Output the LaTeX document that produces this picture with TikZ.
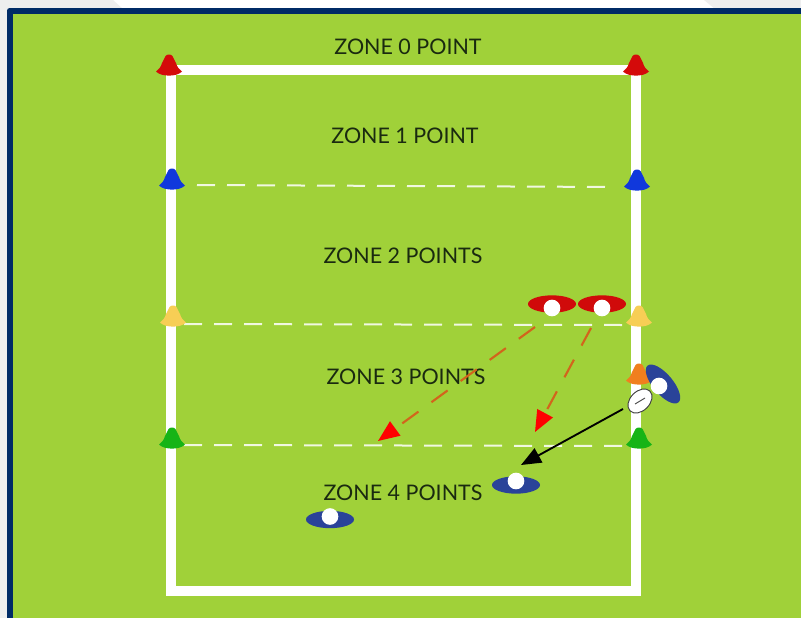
\documentclass[tikz,border=0pt]{standalone}
\usepackage{fontspec}
\setmainfont{Lato}
\usetikzlibrary{arrows.meta,shapes.geometric}
\definecolor{pitch}{HTML}{A0D139}
\definecolor{navy}{HTML}{002B66}
\definecolor{pagegrey}{HTML}{EEEEEE}
\definecolor{conered}{HTML}{D40A0A}
\definecolor{coneblue}{HTML}{1038DC}
\definecolor{coneyellow}{HTML}{F7CE55}
\definecolor{coneorange}{HTML}{F07F1E}
\definecolor{conegreen}{HTML}{16B416}
\definecolor{playerred}{HTML}{D00A0A}
\definecolor{playerblue}{HTML}{2A4399}
\definecolor{runline}{HTML}{D2651C}
\definecolor{zoneink}{HTML}{1A2A10}
\tikzset{
  x=0.75pt,y=-0.75pt,
  fieldline/.style={line width=7pt,draw=white,line cap=butt,line join=miter},
  zoneline/.style={line width=1.5pt,draw=white,opacity=.85,dash pattern=on 13.5pt off 9pt},
  zonelabel/.style={font=\fontsize{16.1}{18}\selectfont,text=zoneink,inner sep=0pt},
  playerbase/.style={ellipse,minimum width=36pt,minimum height=13pt,inner sep=0pt},
  redbase/.style={playerbase,fill=playerred},
  bluebase/.style={playerbase,fill=playerblue},
  head/.style={circle,fill=white,minimum size=12.5pt,inner sep=0pt},
  redrun/.style={draw=runline,line width=1.6pt,dash pattern=on 15pt off 12pt,
    -{Triangle[length=16pt,width=13pt,color=red,fill=red]}},
  pass/.style={draw=black,line width=1.4pt,-{Triangle[length=15pt,width=12pt,color=black,fill=black]}},
  cone/.pic={
    \fill[pic actions,draw=none] (-13,16.5) .. controls (-10,14) and (-8,12) .. (-7,8)
      -- (-3.5,1) .. controls (-2,-1) and (2,-1) .. (3.5,1)
      -- (7,8) .. controls (8,12) and (10,14) .. (13,16.5)
      .. controls (8,22) and (-8,22) .. (-13,16.5) -- cycle;
  }
}
\begin{document}
\begin{tikzpicture}
\useasboundingbox (0,0) rectangle (801,618);
\fill[white] (0,0) rectangle (801,618);
\fill[pagegrey] (0,0) -- (113,0) -- (123,9) -- (8,9) -- (8,618) -- (0,618) -- cycle;
\fill[pagegrey] (801,0) -- (704,0) -- (715,9) -- (801,9) -- cycle;
\fill[navy,rounded corners=2pt] (7,8) rectangle (820,640);
\fill[pitch] (13,14) rectangle (801,618);
% field
\draw[fieldline] (171,70) -- (636,70) -- (636,591) -- (171,591) -- cycle;
% zone lines
\coordinate (z1a) at (197,185); \coordinate (z1b) at (616,187);
\coordinate (z2a) at (184,324); \coordinate (z2b) at (622,325);
\coordinate (z3a) at (184,445); \coordinate (z3b) at (625,446);
\draw[zoneline] (z1a) -- (z1b);
\draw[zoneline] (z2a) -- (z2b);
\draw[zoneline] (z3a) -- (z3b);
% cones
\pic[fill=conered] at (169,55) {cone};
\pic[fill=conered] at (636,55) {cone};
\pic[fill=coneblue] at (172,169) {cone};
\pic[fill=coneblue] at (637,170) {cone};
\pic[fill=coneyellow] at (173,306) {cone};
\pic[fill=coneyellow] at (639,306) {cone};
\pic[fill=conegreen] at (172,428) {cone};
\pic[fill=conegreen] at (639,428) {cone};
\pic[fill=coneorange] at (639,364) {cone};
% labels
\node[zonelabel] (l0) at (408,47) {ZONE 0 POINT};
\node[zonelabel] (l1) at (405,136) {ZONE 1 POINT};
\node[zonelabel] (l2) at (403,256) {ZONE 2 POINTS};
\node[zonelabel] (l3) at (406,377) {ZONE 3 POINTS};
\node[zonelabel] (l4) at (403,493) {ZONE 4 POINTS};
% players
\node[redbase] (r1) at (552,304) {};
\node[head] (r1h) at (552,308) {};
\node[redbase] (r2) at (602,304) {};
\node[head] (r2h) at (602,308) {};
\node[bluebase] (b1) at (516,485) {};
\node[head] (b1h) at (516,481) {};
\node[bluebase] (b2) at (330,519.5) {};
\node[head] (b2h) at (330,516.5) {};
\node[bluebase,minimum height=15pt,rotate=-50] (b3) at (663,384) {};
\node[head] (b3h) at (659,386) {};
% ball
\node[ellipse,draw=black!75,fill=white,line width=.7pt,minimum width=21pt,minimum height=14.5pt,inner sep=0pt,rotate=45] (ball) at (640,401) {};
\draw[black!70,line width=.7pt] ([shift={(-5,3)}]ball.center) -- ([shift={(5,-3)}]ball.center);
% runs
\coordinate (t1) at (378,441);
\coordinate (t2) at (535,432);
\coordinate (t3) at (521,465);
\coordinate (s1) at (535,327);
\coordinate (s2) at (591,328);
\coordinate (s3) at (623,409);
\draw[redrun] (s1) -- (t1);
\draw[redrun] (s2) -- (t2);
\draw[pass] (s3) -- (t3);
\end{tikzpicture}
\end{document}
